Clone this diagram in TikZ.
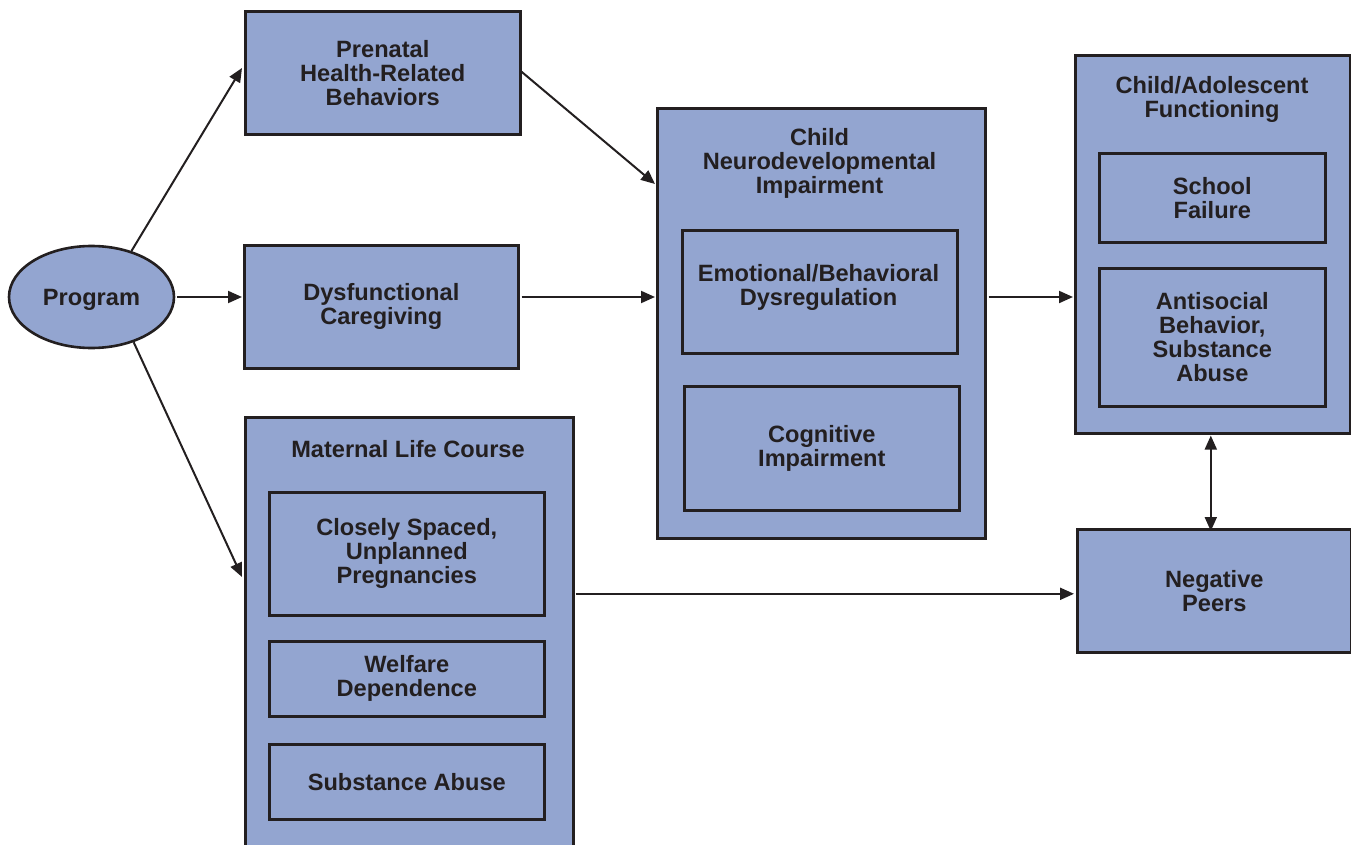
\documentclass[tikz,border=0pt]{standalone}
\usepackage{fontspec}
\setmainfont{Liberation Sans}
\usetikzlibrary{arrows.meta,shapes.geometric,calc}
\definecolor{fillc}{HTML}{93A5D0}
\definecolor{ink}{HTML}{231F20}
\newcommand\lblfont{\bfseries\fontsize{23.6pt}{24pt}\selectfont}
\begin{document}
\begin{tikzpicture}[x=1pt,y=-1pt,
  box/.style={draw=ink, fill=fillc, line width=2.6pt, inner sep=0pt, anchor=north west, font=\lblfont, text=ink, align=center},
  txt/.style={font=\lblfont, text=ink, align=center, inner sep=0pt},
  conn/.style={draw=ink, line width=2pt, -{Triangle[length=14pt,width=12pt]}},
  dconn/.style={draw=ink, line width=2pt, {Triangle[length=14pt,width=12pt]}-{Triangle[length=14pt,width=12pt]}}]
\clip (0,0) rectangle (1351,845);
\fill[white] (0,0) rectangle (1351,845);
% program
\node[ellipse, draw=ink, fill=fillc, line width=2.6pt, minimum width=165pt, minimum height=102pt, inner sep=0pt, font=\lblfont, text=ink, text depth=0pt] (prog) at (91.5,297) {Program};
% first column
\node[box, minimum width=275pt, minimum height=123pt] (pren) at (244,10) {Prenatal\\Health-Related\\Behaviors};
\node[box, minimum width=274pt, minimum height=123pt] (dysf) at (243,244) {Dysfunctional\\Caregiving};
\node[box, minimum width=328pt, minimum height=440pt] (mat) at (244,416) {};
\node[txt] (mattitle) at (408,449) {Maternal Life Course};
\node[box, minimum width=275pt, minimum height=123pt] (preg) at (268,491) {Closely Spaced,\\Unplanned\\Pregnancies};
\node[box, minimum width=275pt, minimum height=75pt] (welf) at (268,640) {Welfare\\Dependence};
\node[box, minimum width=275pt, minimum height=75pt, text depth=0pt] (subs) at (268,743) {Substance Abuse};
% neuro column
\node[box, minimum width=328pt, minimum height=430pt] (neuro) at (656,107) {};
\node[txt] (neurotitle) at (819.5,163) {Child\\Neurodevelopmental\\Impairment};
\node[box, minimum width=275pt, minimum height=123pt] (emo) at (681,229) {};
\node[txt] (emotxt) at (818.5,287.5) {Emotional/Behavioral\\Dysregulation};
\node[box, minimum width=275pt, minimum height=124pt] (cog) at (683,385) {Cognitive\\Impairment};
% child / adolescent column
\node[box, minimum width=275pt, minimum height=378pt] (adol) at (1074,54) {};
\node[txt] (adoltitle) at (1212,99.5) {Child/Adolescent\\Functioning};
\node[box, minimum width=226pt, minimum height=89pt] (school) at (1098,152) {School\\Failure};
\node[box, minimum width=226pt, minimum height=138pt] (anti) at (1098,267) {Antisocial\\Behavior,\\Substance\\Abuse};
\node[box, minimum width=274pt, minimum height=123pt] (neg) at (1076,528) {Negative\\Peers};
% connector ends
\coordinate (pren_in) at (242,68);
\coordinate (neuro_in) at (655,184);
\coordinate (mat_in) at (242,577);
% connectors
\draw[conn] (prog.49) -- (pren_in);
\draw[conn] (prog.east) ++(2,0) -- ($(dysf.west |- prog.east)+(-1,0)$);
\draw[conn] (prog.-47) -- (mat_in);
\draw[conn] (pren.east) ++(0,-1) -- (neuro_in);
\draw[conn] ($(dysf.east |- prog.east)+(2,0)$) -- ($(neuro.west |- prog.east)+(-1,0)$);
\draw[conn] ($(neuro.east |- prog.east)+(2,0)$) -- ($(adol.west |- prog.east)+(-1,0)$);
\draw[conn] ($(mat.east |- neg.west)+(1,3)$) -- ($(neg.west)+(-2,3)$);
\draw[dconn] ($(adol.south)+(-2,1)$) -- ($(adol.south |- neg.north)+(-2,3)$);
\end{tikzpicture}
\end{document}
